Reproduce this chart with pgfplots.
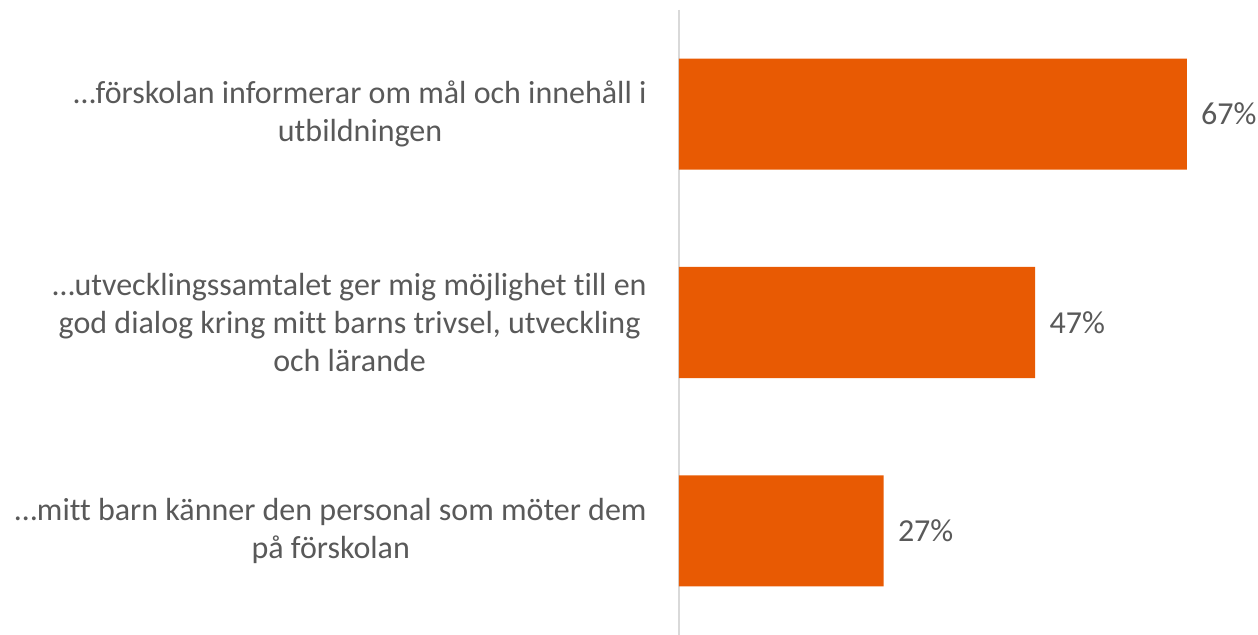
\documentclass[border=0pt]{standalone}
\usepackage{pgfplots}
\pgfplotsset{compat=1.18}
\usepackage{fontspec}
\setmainfont{Carlito}[Ligatures={NoCommon}]
\usetikzlibrary{calc}
\definecolor{barc}{HTML}{E85A03}
\definecolor{txt}{HTML}{595959}
\definecolor{axc}{HTML}{D9D9D9}
\begin{document}
\begin{tikzpicture}[font=\fontsize{16}{19}\selectfont]
\begin{axis}[name=ax, scale only axis, width=289.5pt, height=312.5pt,
  xbar, bar width=0.533, xmin=0, xmax=76.4, ymin=-0.5, ymax=2.5, y dir=reverse,
  axis x line=none, axis y line=left,
  axis line style={draw=axc, line width=0.75pt, -},
  ytick={0,1,2}, major tick length=0pt, ytick style={draw=none},
  /pgf/number format/assume math mode=true,
  yticklabels={{…förskolan informerar om mål och innehåll i\\utbildningen},
    {…utvecklingssamtalet ger mig möjlighet till en\\god dialog kring mitt barns trivsel, utveckling\\och lärande},
    {…mitt barn känner den personal som möter dem\\på förskolan}},
  yticklabel style={align=center, text=txt, anchor=east, inner sep=0pt, xshift=-16pt},
  nodes near coords={\pgfmathprintnumber\pgfplotspointmeta\%},
  nodes near coords style={text=txt, anchor=west, inner sep=0pt, xshift=7pt},
  clip=false]
\addplot[fill=barc, draw=none] coordinates {(67,0) (47,1) (27,2)};
\end{axis}
\pgfresetboundingbox
\path ($(ax.south west)+(-339.5pt,0)$) rectangle ($(ax.south west)+(289.5pt,317.5pt)$);
\end{tikzpicture}
\end{document}
